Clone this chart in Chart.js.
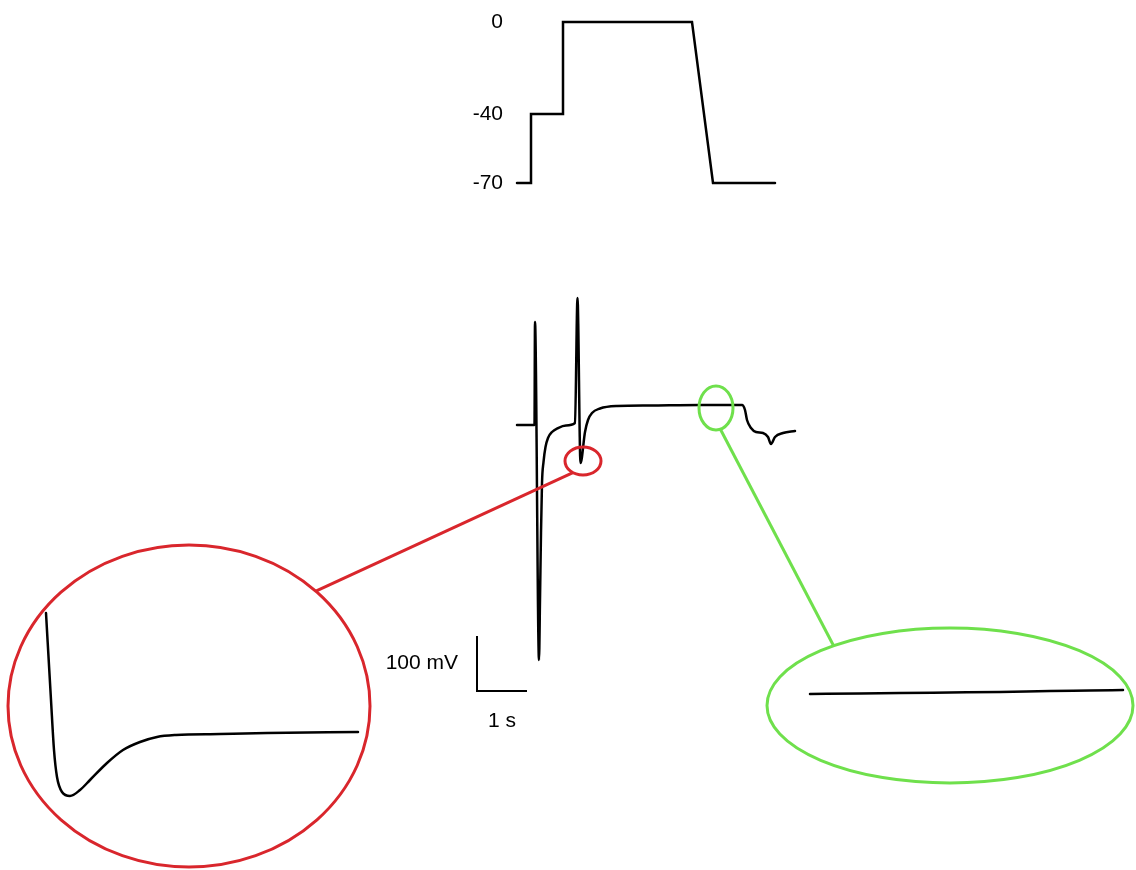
<!DOCTYPE html>
<html>
<head>
<meta charset="utf-8">
<script src="https://cdn.jsdelivr.net/npm/chart.js@4.4.1/dist/chart.umd.min.js"></script>
<style>
  html, body { margin: 0; padding: 0; background: #fff; }
  #stage { position: relative; width: 1136px; height: 870px; overflow: hidden; }
  #stage canvas { position: absolute; }
</style>
</head>
<body>
<div id="stage">
  <canvas id="traceChart" width="1136" height="870" style="left:0;top:0"></canvas>
  <canvas id="protocolChart" width="400" height="210" style="left:440px;top:0"></canvas>
  <canvas id="redInset" width="340" height="260" style="left:30px;top:560px"></canvas>
  <canvas id="greenInset" width="346" height="110" style="left:790px;top:640px"></canvas>
</div>
<script>
// voltage command (s, mV)
const protocolTime = [0, 0.28, 0.28, 0.92, 0.92, 3.5, 3.92, 5.16];
const protocolVoltage = [-70, -70, -40, -40, 0, 0, -70, -70];
const protocolTicks = [0, -40, -70];

// recorded response (s, mV)
const traceTime = [0, 0.35, 0.36, 0.44, 0.46, 0.48, 0.50, 0.53, 0.57, 0.62, 0.70, 0.82, 0.98, 1.16,
    1.21, 1.27, 1.36, 1.42, 1.50, 1.66, 2.00, 2.66, 3.66, 4.50,
    4.56, 4.60, 4.68, 4.78, 4.92, 5.02, 5.08, 5.16, 5.32, 5.56];
const traceVoltage = [-70, -70, 117.3, -497.3, -388.2, -266.4, -175.5, -137.3, -110, -93.6, -82.7, -75.5, -70.9, -66.4,
    160.9, -139.1, -82.7, -60.9, -48.2, -40, -35.5, -34.5, -33.6, -33.6,
    -42.7, -60.9, -75.5, -82.7, -84.5, -91.8, -104.5, -91.8, -84.5, -80.9];

// scale bar: corner position and lengths
const scaleBarOrigin = [-0.8, -553.6];
const scaleBarTime = 1;     // s
const scaleBarVoltage = 100; // mV

// red inset: trough after the second spike (ms, mV)
const redInsetTime = [0, 10, 16, 22, 32, 48, 68, 88, 122, 154, 188, 222, 260, 348, 442, 624];
const redInsetVoltage = [-1, -44.5, -69.5, -83, -90.5, -92.5, -89.5, -84.5, -76, -69.5, -65.5,
    -63, -62, -61.5, -61, -60.5];

// green inset: plateau (s, mV)
const greenInsetTime = [3.90, 3.95, 3.99, 4.04, 4.09, 4.14, 4.18, 4.213];
const greenInsetVoltage = [-33.2, -33.15, -33.1, -33.05, -33.0, -32.9, -32.85, -32.8];

const RED = '#d9262c';
const GREEN = '#6fe04c';
const FONT = '"Liberation Sans", Arial, Helvetica, sans-serif';

function pairs(xs, ys) {
    return xs.map((x, i) => ({ x: x, y: ys[i] }));
}

function lineDataset(xs, ys, extra) {
    return Object.assign({
        data: pairs(xs, ys),
        borderColor: '#000',
        borderWidth: 2.5,
        pointRadius: 0,
        fill: false,
        borderJoinStyle: 'round',
        borderCapStyle: 'round',
        cubicInterpolationMode: 'monotone'
    }, extra || {});
}

function bareOptions(xMin, xMax, yMin, yMax, padding) {
    return {
        responsive: false,
        animation: false,
        events: [],
        layout: { padding: padding || 0 },
        plugins: { legend: { display: false }, tooltip: { enabled: false } },
        scales: {
            x: { type: 'linear', display: false, min: xMin, max: xMax },
            y: { type: 'linear', display: false, min: yMin, max: yMax }
        }
    };
}

// magnifier outlines: small ellipse on the trace (data centre, px radii),
// large ellipse around the inset (px), joined by a straight line
const callouts = [
    { color: RED, t: 1.32, v: -135.5, rx: 18, ry: 14, fromDeg: 124,
      cx: 189, cy: 706, RX: 181, RY: 161, toDeg: -45.5 },
    { color: GREEN, t: 3.98, v: -39, rx: 17, ry: 22, fromDeg: 75,
      cx: 950, cy: 705.5, RX: 183, RY: 77.5, toDeg: -129.5 }
];

function onEllipse(cx, cy, rx, ry, deg) {
    const a = deg * Math.PI / 180;
    return [cx + rx * Math.cos(a), cy + ry * Math.sin(a)];
}

const calloutPlugin = {
    id: 'callouts',
    afterDatasetsDraw(chart) {
        const ctx = chart.ctx;
        const xs = chart.scales.x;
        const ys = chart.scales.y;
        ctx.save();
        ctx.lineWidth = 3;
        callouts.forEach(c => {
            const sx = xs.getPixelForValue(c.t);
            const sy = ys.getPixelForValue(c.v);
            ctx.strokeStyle = c.color;
            ctx.beginPath();
            ctx.ellipse(sx, sy, c.rx, c.ry, 0, 0, Math.PI * 2);
            ctx.stroke();
            ctx.beginPath();
            ctx.ellipse(c.cx, c.cy, c.RX, c.RY, 0, 0, Math.PI * 2);
            ctx.stroke();
            const p0 = onEllipse(sx, sy, c.rx, c.ry, c.fromDeg);
            const p1 = onEllipse(c.cx, c.cy, c.RX, c.RY, c.toDeg);
            ctx.beginPath();
            ctx.moveTo(p0[0], p0[1]);
            ctx.lineTo(p1[0], p1[1]);
            ctx.stroke();
        });

        // scale bar labels
        const bx = xs.getPixelForValue(scaleBarOrigin[0]);
        const by = ys.getPixelForValue(scaleBarOrigin[1]);
        ctx.fillStyle = '#000';
        ctx.font = '21px ' + FONT;
        ctx.textBaseline = 'middle';
        ctx.textAlign = 'right';
        ctx.fillText(scaleBarVoltage + ' mV', bx - 19,
            ys.getPixelForValue(scaleBarOrigin[1] + scaleBarVoltage / 2));
        ctx.textAlign = 'center';
        ctx.fillText(scaleBarTime + ' s',
            xs.getPixelForValue(scaleBarOrigin[0] + scaleBarTime / 2), by + 30);
        ctx.restore();
    }
};

// main recording with scale bar
new Chart(document.getElementById('traceChart'), {
    type: 'line',
    data: {
        datasets: [
            lineDataset(traceTime, traceVoltage),
            lineDataset(
                [scaleBarOrigin[0], scaleBarOrigin[0], scaleBarOrigin[0] + scaleBarTime],
                [scaleBarOrigin[1] + scaleBarVoltage, scaleBarOrigin[1], scaleBarOrigin[1]],
                { borderWidth: 2, cubicInterpolationMode: 'default', tension: 0, borderJoinStyle: 'miter', borderCapStyle: 'butt' }
            )
        ]
    },
    options: bareOptions(-1, 6, -570, 200, { left: 467, right: 319, top: 276.5, bottom: 170 }),
    plugins: [calloutPlugin]
});

// voltage command above
const protocolOptions = bareOptions(-0.14, 6.46, -70, 0, { left: 0, right: 0, top: 22, bottom: 27 });
protocolOptions.scales.y = {
    type: 'linear',
    min: -70,
    max: 0,
    grid: { display: false, drawTicks: false },
    border: { display: false },
    afterBuildTicks: scale => { scale.ticks = protocolTicks.map(v => ({ value: v })); },
    afterFit: scale => { scale.width = 70; },
    ticks: { color: '#000', padding: 7, font: { family: FONT, size: 21 } }
};
new Chart(document.getElementById('protocolChart'), {
    type: 'line',
    data: {
        datasets: [lineDataset(protocolTime, protocolVoltage,
            { cubicInterpolationMode: 'default', tension: 0, borderJoinStyle: 'miter', clip: false })]
    },
    options: protocolOptions
});

// enlarged views
new Chart(document.getElementById('redInset'), {
    type: 'line',
    data: { datasets: [lineDataset(redInsetTime, redInsetVoltage, { borderWidth: 2.5 })] },
    options: bareOptions(-32, 648, -104.5, 25.5)
});

new Chart(document.getElementById('greenInset'), {
    type: 'line',
    data: { datasets: [lineDataset(greenInsetTime, greenInsetVoltage, { borderWidth: 2.5 })] },
    options: bareOptions(3.88, 4.226, -38.8, -27.8)
});
</script>
</body>
</html>
